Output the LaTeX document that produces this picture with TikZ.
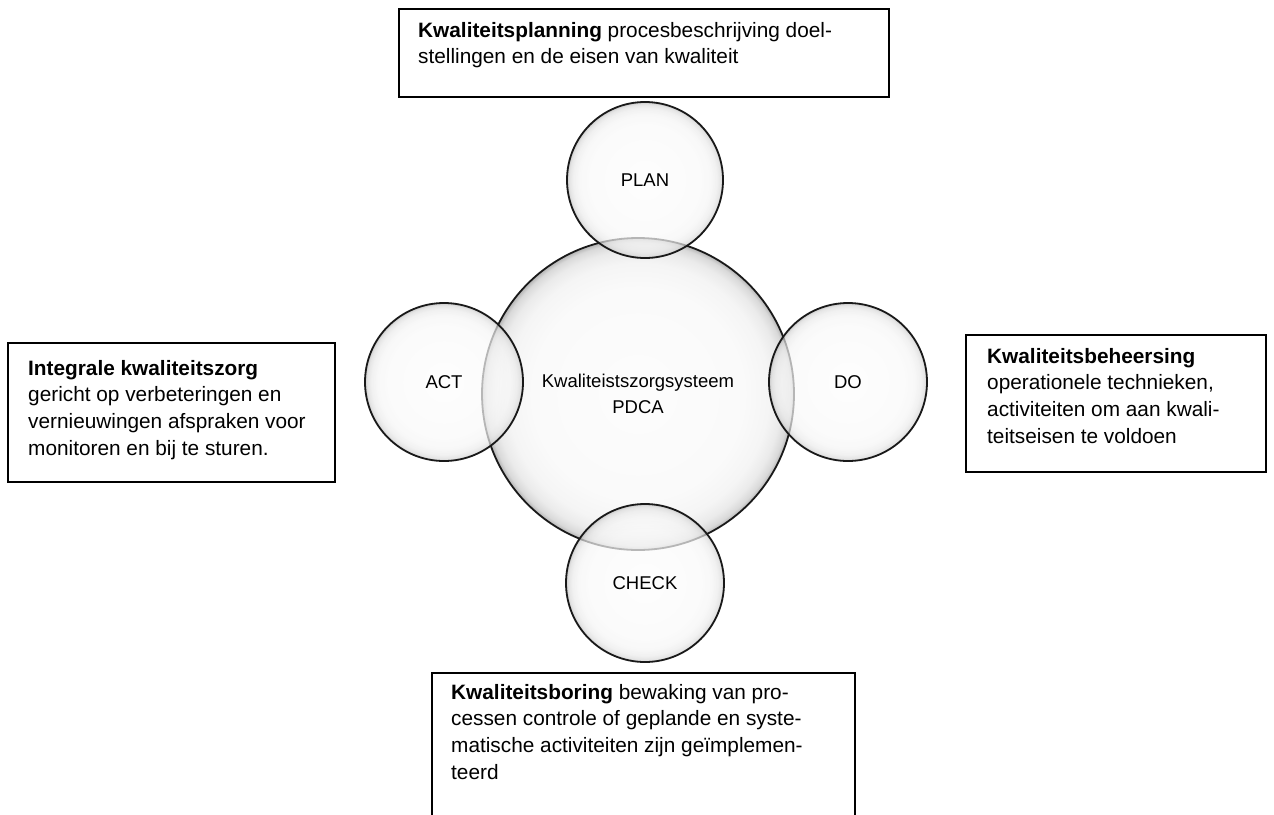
\documentclass[tikz,border=0pt]{standalone}
\usepackage{fontspec}
\setmainfont{Liberation Sans}
% glassy bubble: near-white core, greying only close to the rim (rim at 25bp)
\pgfdeclareradialshading{bubble}{\pgfpoint{0bp}{0bp}}{%
  color(0bp)=(black!1); color(17bp)=(black!2); color(21bp)=(black!4);
  color(23bp)=(black!8); color(24.3bp)=(black!15); color(25bp)=(black!30);
  color(50bp)=(black!30)}
\begin{document}
\begin{tikzpicture}[x=1pt,y=-1pt,
  bubble/.style={circle, draw=black!90, line width=1.8pt, inner sep=0pt,
    shading=bubble, text opacity=1, align=center,
    font=\fontsize{18.5}{26}\selectfont},
  satellite/.style={bubble, minimum size=158pt, fill opacity=0.7},
  infobox/.style={draw=black, line width=1.4pt},
  infotext/.style={anchor=north west, inner sep=0pt, align=left,
    font=\fontsize{20.8}{26.8}\selectfont}]
\useasboundingbox (0,0) rectangle (1274,814);

% central circle and the four PDCA phases
\node[bubble, minimum size=312pt] (core) at (638,394)
  {Kwaliteistszorgsysteem\\PDCA};
\node[satellite, minimum size=156pt] (plan) at (645,180) {PLAN};
\node[satellite] (act) at (444,382) {ACT};
\node[satellite] (do) at (848,382) {DO};
\node[satellite] (check) at (645,583) {CHECK};

% description boxes
\draw[infobox] (399,9) rectangle (889,97);
\node[infotext] (plantext) at (418,18.2)
  {\strut\textbf{Kwaliteitsplanning} procesbeschrijving doel-\\
   stellingen en de eisen van kwaliteit};

\draw[infobox] (8,343) rectangle (335,482);
\node[infotext] (acttext) at (28,356.2)
  {\strut\textbf{Integrale kwaliteitszorg}\\
   gericht op verbeteringen en\\
   vernieuwingen afspraken voor\\
   monitoren en bij te sturen.};

\draw[infobox] (966,335) rectangle (1266,472);
\node[infotext] (dotext) at (987,344.2)
  {\strut\textbf{Kwaliteitsbeheersing}\\
   operationele technieken,\\
   activiteiten om aan kwali-\\
   teitseisen te voldoen};

\draw[infobox] (432,818) -- (432,673) -- (855,673) -- (855,818);
\node[infotext] (checktext) at (451,680.2)
  {\strut\textbf{Kwaliteitsboring} bewaking van pro-\\
   cessen controle of geplande en syste-\\
   matische activiteiten zijn geïmplemen-\\
   teerd};
\end{tikzpicture}
\end{document}
